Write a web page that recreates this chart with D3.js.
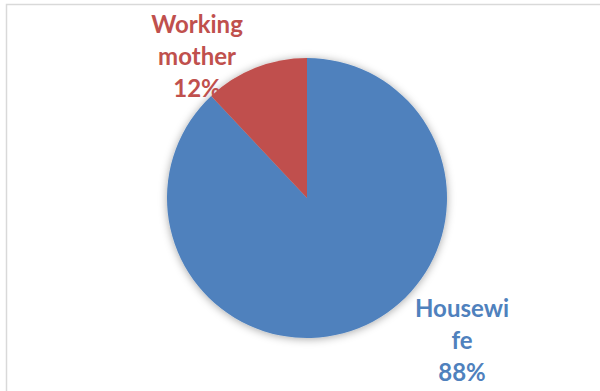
<!DOCTYPE html>
<html>
<head>
<meta charset="utf-8">
<script src="https://cdn.jsdelivr.net/npm/d3@7"></script>
<style>
  html, body { margin: 0; padding: 0; background: #fff; }
  svg { display: block; }
</style>
</head>
<body>
<svg id="chart" width="600" height="391"></svg>
<script>
// Share of mothers by occupation
const categories = ["Housewife", "Working mother"];
const values = [88, 12];
const labelLines = [["Housewi", "fe"], ["Working", "mother"]];
const colors = ["#4F81BD", "#C0504D"];

const width = 600, height = 391;
const cx = 307, cy = 198, radius = 140;
// label block anchors relative to the pie centre
const labelAnchor = [{ x: 155, y: 119 }, { x: -110, y: -165 }];
const lineStep = 32;

const svg = d3.select("#chart");

// chart area frame
svg.append("rect")
  .attr("x", 6.5).attr("y", 4.5)
  .attr("width", 640).attr("height", 420)
  .attr("fill", "#fff")
  .attr("stroke", "#d9d9d9")
  .attr("stroke-width", 1.5);

const defs = svg.append("defs");
const shadow = defs.append("filter").attr("id", "soft")
  .attr("x", "-20%").attr("y", "-20%").attr("width", "140%").attr("height", "140%");
shadow.append("feDropShadow")
  .attr("dx", 0).attr("dy", 1)
  .attr("stdDeviation", 4)
  .attr("flood-color", "#000")
  .attr("flood-opacity", 0.35);

const pie = d3.pie().sort(null).value(d => d)(values);
const arc = d3.arc().innerRadius(0).outerRadius(radius);

const g = svg.append("g").attr("transform", `translate(${cx},${cy})`);

g.append("g").attr("filter", "url(#soft)")
  .selectAll("path")
  .data(pie)
  .join("path")
  .attr("d", arc)
  .attr("fill", (d, i) => colors[i]);

const labels = g.selectAll("text.lbl")
  .data(pie)
  .join("text")
  .attr("class", "lbl")
  .attr("text-anchor", "middle")
  .attr("font-family", "Lato, 'Open Sans', sans-serif")
  .attr("font-weight", "bold")
  .attr("font-size", 24)
  .attr("fill", (d, i) => colors[i])
  .attr("transform", (d, i) => `translate(${labelAnchor[i].x},${labelAnchor[i].y})`);

labels.each(function (d, i) {
  const t = d3.select(this);
  const total = d3.sum(values);
  const lines = labelLines[i].concat([Math.round(d.value / total * 100) + "%"]);
  lines.forEach((s, k) => {
    t.append("tspan").attr("x", 0).attr("y", k * lineStep).text(s);
  });
});
</script>
</body>
</html>
